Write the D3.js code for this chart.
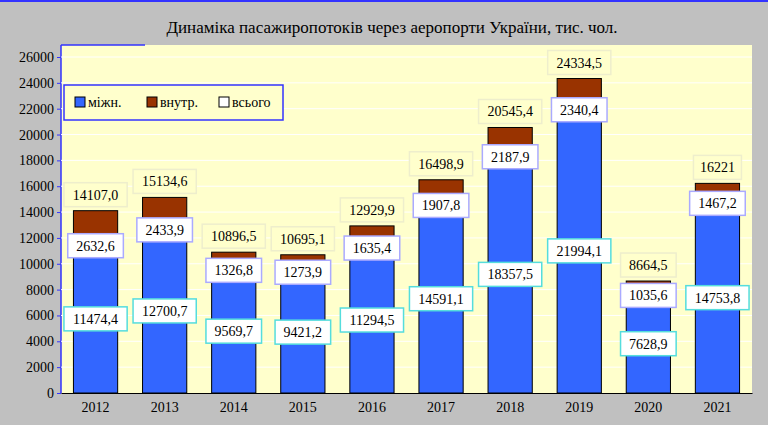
<!DOCTYPE html><html><head><meta charset="utf-8"><script src="https://cdn.jsdelivr.net/npm/d3@7"></script>
<style>body{margin:0;background:#c0c0c0}text{font-family:"Liberation Serif",serif}</style></head><body><svg id="c" width="768" height="425"></svg><script>
const years=["2012","2013","2014","2015","2016","2017","2018","2019","2020","2021"];
const intl=[11474.4,12700.7,9569.7,9421.2,11294.5,14591.1,18357.5,21994.1,7628.9,14753.8];
const dom=[2632.6,2433.9,1326.8,1273.9,1635.4,1907.8,2187.9,2340.4,1035.6,1467.2];
const total=["14107,0","15134,6","10896,5","10695,1","12929,9","16498,9","20545,4","24334,5","8664,5","16221"];
const yTicks=d3.range(0,26001,2000);
const svg=d3.select("#c");
svg.append("rect").attr("width",768).attr("height",425).attr("fill","#c0c0c0");
svg.append("line").attr("x1",0).attr("x2",768).attr("y1",1).attr("y2",1).attr("stroke","#3333ff").attr("stroke-width",2);
const L=61,R=752,T=45,B=393;
const x=d3.scaleBand().domain(years).range([L,R]).paddingInner(0.36).paddingOuter(0.18);
const y=d3.scaleLinear().domain([0,26000]).range([B,57]);
svg.append("rect").attr("x",L).attr("y",T).attr("width",R-L).attr("height",B-T).attr("fill","#ffffcc");
svg.append("line").attr("x1",L).attr("x2",L).attr("y1",T).attr("y2",B).attr("stroke","#3333ff").attr("stroke-width",1.5);
svg.append("line").attr("x1",L).attr("x2",145).attr("y1",T).attr("y2",T).attr("stroke","#3333ff").attr("stroke-width",1.5);
svg.selectAll(".g").data(yTicks.slice(1)).join("line").attr("x1",L).attr("x2",R).attr("y1",d=>y(d)).attr("y2",d=>y(d)).attr("stroke","#fff");
const ya=svg.append("g").attr("transform",`translate(${L},0)`).call(d3.axisLeft(y).tickValues(yTicks).tickSize(4).tickFormat(d3.format("d")));
ya.select(".domain").remove();ya.selectAll("line").attr("stroke","#3333ff");
ya.selectAll("text").attr("font-size",14).attr("font-family","Liberation Serif").attr("fill","#000");
const xa=svg.append("g").attr("transform",`translate(0,${B})`).call(d3.axisBottom(x).tickSize(0).tickPadding(9));
xa.select(".domain").attr("stroke","#000");
xa.selectAll("text").attr("font-size",14).attr("font-family","Liberation Serif").attr("fill","#000");
const g=svg.append("g");
years.forEach((yr,i)=>{const bx=x(yr),w=x.bandwidth();
g.append("rect").attr("x",bx).attr("y",y(intl[i])).attr("width",w).attr("height",B-y(intl[i])).attr("fill","#3366ff").attr("stroke","#000").attr("stroke-width",1);
g.append("rect").attr("x",bx).attr("y",y(intl[i]+dom[i])).attr("width",w).attr("height",y(intl[i])-y(intl[i]+dom[i])).attr("fill","#993300").attr("stroke","#000").attr("stroke-width",1);});
function lab(cx,cy,t,stroke,fill){const w=t.length*7.6+10;
svg.append("rect").attr("x",cx-w/2).attr("y",cy-12).attr("width",w).attr("height",24).attr("fill",fill).attr("stroke",stroke).attr("stroke-width",1.5);
svg.append("text").attr("x",cx).attr("y",cy+5).attr("text-anchor","middle").attr("font-size",14).text(t);}
const fmt=v=>v.toFixed(1).replace(".",",");
years.forEach((yr,i)=>{const cx=x(yr)+x.bandwidth()/2;
lab(cx,y(intl[i]/2),fmt(intl[i]),"#55dddd","#fff");
lab(cx,y(intl[i])+1,fmt(dom[i]),"#aaaaff","#fff");
lab(cx,y(intl[i]+dom[i])-16,total[i],"#eeeecc","#ffffcc");});
svg.append("text").attr("x",392).attr("y",33).attr("text-anchor","middle").attr("font-size",17).text("Динаміка пасажиропотоків через аеропорти України, тис. чол.");
const lg=svg.append("g").attr("transform","translate(64,85)");
lg.append("rect").attr("width",219).attr("height",35).attr("fill","#ffffcc").attr("stroke","#3333ff").attr("stroke-width",1.5);
[["міжн.","#3366ff"],["внутр.","#993300"],["всього","#fff"]].forEach((d,i)=>{const ox=11+i*72;
lg.append("rect").attr("x",ox).attr("y",12).attr("width",10).attr("height",10).attr("fill",d[1]).attr("stroke","#000");
lg.append("text").attr("x",ox+13).attr("y",22).attr("font-size",14).text(d[0]);});
</script></body></html>
